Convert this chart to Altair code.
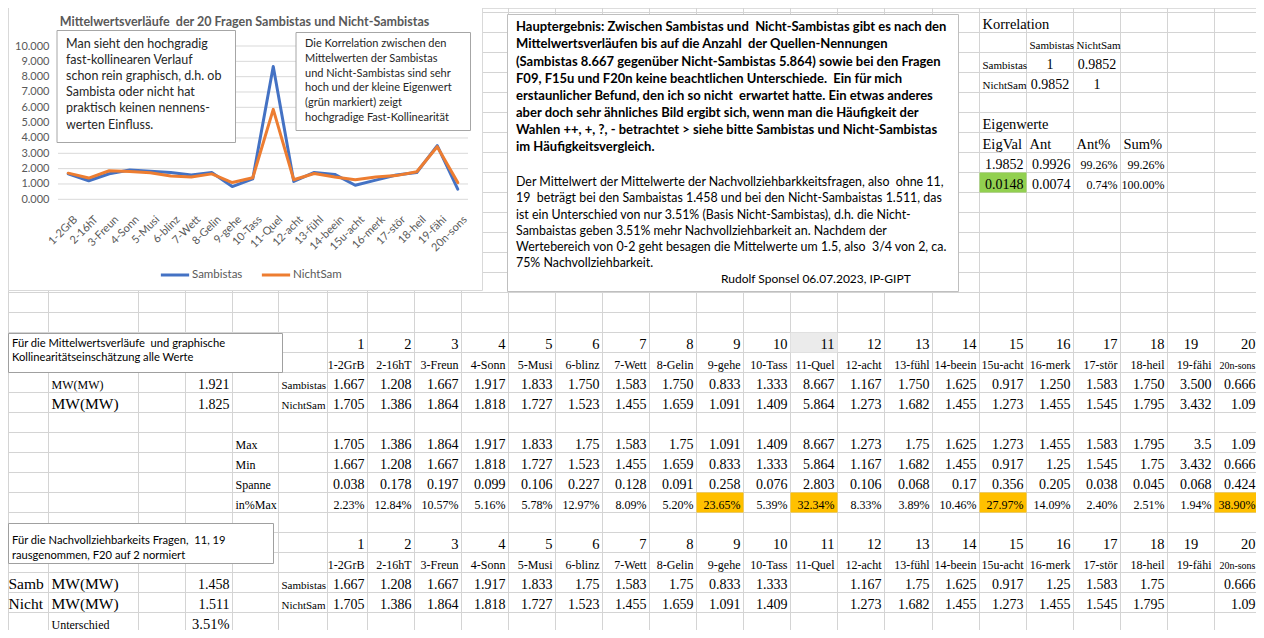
import altair as alt
import pandas as pd

# ---------------- data ----------------
categories = ["1-2GrB", "2-16hT", "3-Freun", "4-Sonn", "5-Musi", "6-blinz", "7-Wett",
              "8-Gelin", "9-gehe", "10-Tass", "11-Quel", "12-acht", "13-fühl", "14-beein",
              "15u-acht", "16-merk", "17-stör", "18-heil", "19-fähi", "20n-sons"]
question_numbers = list(range(1, 21))
sambistas = [1.667, 1.208, 1.667, 1.917, 1.833, 1.750, 1.583, 1.750, 0.833, 1.333,
             8.667, 1.167, 1.750, 1.625, 0.917, 1.250, 1.583, 1.750, 3.500, 0.666]
nichtsam = [1.705, 1.386, 1.864, 1.818, 1.727, 1.523, 1.455, 1.659, 1.091, 1.409,
            5.864, 1.273, 1.682, 1.455, 1.273, 1.455, 1.545, 1.795, 3.432, 1.09]
max_vals = [1.705, 1.386, 1.864, 1.917, 1.833, 1.75, 1.583, 1.75, 1.091, 1.409,
            8.667, 1.273, 1.75, 1.625, 1.273, 1.455, 1.583, 1.795, 3.5, 1.09]
min_vals = [1.667, 1.208, 1.667, 1.818, 1.727, 1.523, 1.455, 1.659, 0.833, 1.333,
            5.864, 1.167, 1.682, 1.455, 0.917, 1.25, 1.545, 1.75, 3.432, 0.666]
spanne = [0.038, 0.178, 0.197, 0.099, 0.106, 0.227, 0.128, 0.091, 0.258, 0.076,
          2.803, 0.106, 0.068, 0.17, 0.356, 0.205, 0.038, 0.045, 0.068, 0.424]
in_pct_max = [2.23, 12.84, 10.57, 5.16, 5.78, 12.97, 8.09, 5.20, 23.65, 5.39,
              32.34, 8.33, 3.89, 10.46, 27.97, 14.09, 2.40, 2.51, 1.94, 38.90]
highlight_questions = [9, 11, 15, 20]
excluded_questions = [11, 19]
mw_all = [1.921, 1.825]
mw_nv = [1.458, 1.511]
unterschied = "3.51%"
corr_labels = ["Sambistas", "NichtSam"]
corr_matrix = [["1", "0.9852"], ["0.9852", "1"]]
eig_header = ["EigVal", "Ant", "Ant%", "Sum%"]
eig_rows = [["1.9852", "0.9926", "99.26%", "99.26%"],
            ["0.0148", "0.0074", "0.74%", "100.00%"]]

NB2 = " \u00a0"  # keeps the double spaces of the original texts
chart_title = "Mittelwertsverläufe" + NB2 + "der 20 Fragen Sambistas und Nicht-Sambistas"
note_left = ["Man sieht den hochgradig", "fast-kollinearen Verlauf",
             "schon rein graphisch, d.h. ob", "Sambista oder nicht hat",
             "praktisch keinen nennens-", "werten Einfluss."]
note_right = ["Die Korrelation zwischen den", "Mittelwerten der Sambistas",
              "und Nicht-Sambistas sind sehr", "hoch und der kleine Eigenwert",
              "(grün markiert) zeigt", "hochgradige Fast-Kollinearität"]
main_bold = ["Hauptergebnis: Zwischen Sambistas und" + NB2 + "Nicht-Sambistas gibt es nach den",
             "Mittelwertsverläufen bis auf die Anzahl" + NB2 + "der Quellen-Nennungen",
             "(Sambistas 8.667 gegenüber Nicht-Sambistas 5.864) sowie bei den Fragen",
             "F09, F15u und F20n keine beachtlichen Unterschiede." + NB2 + "Ein für mich",
             "erstaunlicher Befund, den ich so nicht" + NB2 + "erwartet hatte. Ein etwas anderes",
             "aber doch sehr ähnliches Bild ergibt sich, wenn man die Häufigkeit der",
             "Wahlen ++, +, ?, - betrachtet > siehe bitte Sambistas und Nicht-Sambistas",
             "im Häufigkeitsvergleich."]
main_norm = ["Der Mittelwert der Mittelwerte der Nachvollziehbarkkeitsfragen, also" + NB2 + "ohne 11,",
             "19" + NB2 + "beträgt bei den Sambaistas 1.458 und bei den Nicht-Sambaistas 1.511, das",
             "ist ein Unterschied von nur 3.51% (Basis Nicht-Sambistas), d.h. die Nicht-",
             "Sambaistas geben 3.51% mehr Nachvollziehbarkeit an. Nachdem der",
             "Wertebereich von 0-2 geht besagen die Mittelwerte um 1.5, also" + NB2 + "3/4 von 2, ca.",
             "75% Nachvollziehbarkeit."]
signature = "Rudolf Sponsel 06.07.2023, IP-GIPT"
box1_text = ["Für die Mittelwertsverläufe" + NB2 + "und graphische", "Kollinearitätseinschätzung alle Werte"]
box2_text = ["Für die Nachvollziehbarkeits Fragen," + NB2 + "11, 19", "rausgenommen, F20 auf 2 normiert"]

# ---------------- layout ----------------
W, H = 1248, 622
OFF = 8
SERIF = "Liberation Serif"
SANS = "Lato"
col_edges_page = ([8, 48, 138, 185, 232, 278, 327, 367]
                  + [413.8 + 47.07 * i for i in range(18)] + [1258.5, 1300])
SX = alt.Scale(type="linear", domain=list(range(len(col_edges_page))),
               range=[round(e - OFF) + 0.5 for e in col_edges_page], zero=False, nice=False)
SY = alt.Scale(type="linear", domain=[0, 32], range=[-15.5, 624.5], zero=False, nice=False)


def gen(v):
    return f"{v:.3f}".rstrip("0").rstrip(".")


def fix3(v):
    return f"{v:.3f}"


def qcol(k):
    return 5 + k


# ---------------- sheet cells ----------------
cells = []


def put(col, row, text, style):
    cells.append(dict(col=col, row=row, text=str(text), style=style))


STY = {
    "num": (14, "right", -3), "hdr": (14.5, "right", -3), "hdrc": (14.5, "center", 0),
    "lab": (12, "right", -3), "labs": (10, "right", -3), "rowlab": (11, "left", 3),
    "stat": (12, "left", 3), "pct": (12, "right", -3), "big": (15.5, "left", 3),
    "bigA": (15.5, "left", 0),
    "mws": (12, "left", 3), "ktitle": (14.5, "left", 3), "kc": (14, "center", 0),
    "kpct": (12, "right", -3), "knum": (14, "right", -3), "unt": (12, "left", 3),
    "untv": (14.5, "right", -3),
}

# upper table
for k in question_numbers:
    put(qcol(k), 17, k, "hdrc" if k == 19 else "hdr")
    put(qcol(k), 18, categories[k - 1], "labs" if k == 20 else "lab")
    put(qcol(k), 19, fix3(sambistas[k - 1]), "num")
    put(qcol(k), 20, fix3(nichtsam[k - 1]) if k < 20 else gen(nichtsam[k - 1]), "num")
    put(qcol(k), 22, gen(max_vals[k - 1]), "num")
    put(qcol(k), 23, gen(min_vals[k - 1]), "num")
    put(qcol(k), 24, gen(spanne[k - 1]), "num")
    put(qcol(k), 25, f"{in_pct_max[k - 1]:.2f}%", "pct")
put(1, 19, "MW(MW)", "mws")
put(1, 20, "MW(MW)", "big")
put(3, 19, fix3(mw_all[0]), "num")
put(3, 20, fix3(mw_all[1]), "num")
put(5, 19, "Sambistas", "rowlab")
put(5, 20, "NichtSam", "rowlab")
for r, lab in zip([22, 23, 24, 25], ["Max", "Min", "Spanne", "in%Max"]):
    put(4, r, lab, "stat")

# lower table
for k in question_numbers:
    put(qcol(k), 27, k, "hdrc" if k == 19 else "hdr")
    put(qcol(k), 28, categories[k - 1], "labs" if k == 20 else "lab")
    if k not in excluded_questions:
        put(qcol(k), 29, gen(sambistas[k - 1]), "num")
        put(qcol(k), 30, gen(nichtsam[k - 1]), "num")
put(0, 29, "Samb", "bigA")
put(0, 30, "Nicht", "bigA")
put(1, 29, "MW(MW)", "big")
put(1, 30, "MW(MW)", "big")
put(3, 29, fix3(mw_nv[0]), "num")
put(3, 30, fix3(mw_nv[1]), "num")
put(5, 29, "Sambistas", "rowlab")
put(5, 30, "NichtSam", "rowlab")
put(1, 31, "Unterschied", "unt")
put(3, 31, unterschied, "untv")

# Korrelation / Eigenwerte block
kc0 = qcol(15)
put(kc0, 1, "Korrelation", "ktitle")
put(kc0 + 1, 2, corr_labels[0], "rowlab")
put(kc0 + 2, 2, corr_labels[1], "rowlab")
for i, lab in enumerate(corr_labels):
    put(kc0, 3 + i, lab, "rowlab")
    for j in range(2):
        put(kc0 + 1 + j, 3 + i, corr_matrix[i][j], "kc")
put(kc0, 6, "Eigenwerte", "ktitle")
for j, h in enumerate(eig_header):
    put(kc0 + j, 7, h, "ktitle")
for i, row in enumerate(eig_rows):
    for j, v in enumerate(row):
        put(kc0 + j, 8 + i, v, "knum" if j < 2 else "kpct")

cells_df = pd.DataFrame(cells)
cells_df["yp"] = cells_df["row"] + 1

text_layers = []
for name, (size, align, dx) in STY.items():
    d = cells_df[cells_df["style"] == name].copy()
    if d.empty:
        continue
    shift = {"right": 1.0, "left": 0.0, "center": 0.5}[align]
    d["xp"] = d["col"] + shift
    text_layers.append(
        alt.Chart(d).mark_text(align=align, baseline="alphabetic", dx=dx, dy=-4,
                               font=SERIF, fontSize=size, color="black")
        .encode(x=alt.X("xp:Q", scale=SX, axis=None),
                y=alt.Y("yp:Q", scale=SY, axis=None),
                text="text:N"))

# gridlines
vgrid = pd.DataFrame({"e": list(range(len(col_edges_page))), "y0": 0, "y1": 32})
hgrid = pd.DataFrame({"r": list(range(33)), "x0": 0, "x1": len(col_edges_page) - 1})
grid_v = alt.Chart(vgrid).mark_rule(color="#d4d4d4", strokeWidth=1).encode(
    x=alt.X("e:Q", scale=SX, axis=None), y=alt.Y("y0:Q", scale=SY, axis=None), y2="y1:Q")
grid_h = alt.Chart(hgrid).mark_rule(color="#d4d4d4", strokeWidth=1).encode(
    y=alt.Y("r:Q", scale=SY, axis=None), x=alt.X("x0:Q", scale=SX, axis=None), x2="x1:Q")

# filled cells
fills = [dict(c=qcol(k), r=25, color="#FFC000") for k in highlight_questions]
fills.append(dict(c=kc0, r=9, color="#92D050"))
fills.append(dict(c=qcol(11), r=17, color="#EBEBEB"))
fill_df = pd.DataFrame(fills)
fill_df["c2"] = fill_df["c"] + 1
fill_df["r2"] = fill_df["r"] + 1
fill_layer = alt.Chart(fill_df).mark_rect().encode(
    x=alt.X("c:Q", scale=SX, axis=None), x2="c2:Q",
    y=alt.Y("r:Q", scale=SY, axis=None), y2="r2:Q",
    color=alt.Color("color:N", scale=None))

sheet = alt.layer(grid_v, grid_h, fill_layer, *text_layers)

# ---------------- boxes & free text ----------------
one = pd.DataFrame({"a": [0]})


def box(x0, y0, x1, y1, stroke):
    return alt.Chart(one).mark_rect(fill="white", stroke=stroke, strokeWidth=1).encode(
        x=alt.value(x0 - OFF), x2=alt.value(x1 - OFF), y=alt.value(y0 - OFF), y2=alt.value(y1 - OFF))


def txt(lines, x, yfirst, size, lh, weight="normal", color="black", align="left", font=SANS):
    return alt.Chart(one).mark_text(text=lines, align=align, baseline="middle", font=font,
                                    fontSize=size, fontWeight=weight, lineHeight=lh,
                                    color=color).encode(
        x=alt.value(x - OFF), y=alt.value(yfirst - OFF))


boxes = alt.layer(
    box(8.5, 4.5, 482.5, 290.5, "#D9D9D9"),
    box(507.5, 14.5, 958.5, 291.5, "#BFBFBF"),
    txt(main_bold, 516, 27.3, 13.0, 17.15, weight="bold"),
    txt(main_norm, 516, 182.3, 12.4, 16.2),
    txt(signature, 721, 278.7, 12, 16),
    box(8.5, 333.5, 282.5, 372.5, "#A0A0A0"),
    txt(box1_text, 12, 344, 11.2, 14),
    box(8.5, 523.5, 273.5, 563.5, "#A0A0A0"),
    txt(box2_text, 12, 541, 11.2, 15),
    txt(chart_title, 244.5, 22, 12.5, 15, weight="bold", color="#595959", align="center"),
)

# ---------------- the line chart ----------------
chart_df = pd.DataFrame({
    "cat": categories * 2,
    "val": sambistas + nichtsam,
    "series": ["Sambistas"] * 20 + ["NichtSam"] * 20,
})
Y0, Y10 = 199.3 - OFF, 46 - OFF
XS = alt.Scale(type="point", domain=categories, range=[58 - OFF, 468 - OFF], padding=0.5)
YS = alt.Scale(type="linear", domain=[0, 10], range=[Y0, Y10], nice=False, zero=False)
xaxis = alt.Axis(orient="bottom", offset=-(H - Y0), labelAngle=-45, labelFont=SANS,
                 labelFontSize=11, labelColor="#595959", domain=False, ticks=False,
                 labelPadding=14, labelOffset=3, title=None, grid=False, zindex=1)
yaxis = alt.Axis(orient="left", offset=-(58 - OFF), values=list(range(11)), format=".3f",
                 labelFont=SANS, labelFontSize=11, labelColor="#595959", domain=False,
                 ticks=False, grid=False, labelPadding=9, title=None, zindex=1)

gridvals = pd.DataFrame({"v": list(range(11))})
chart_grid = alt.Chart(gridvals).mark_rule(color="#D9D9D9", strokeWidth=1).encode(
    y=alt.Y("v:Q", scale=YS, axis=yaxis),
    x=alt.value(58 - OFF), x2=alt.value(468 - OFF))
lines = alt.Chart(chart_df).mark_line(strokeWidth=3, strokeJoin="round", strokeCap="round").encode(
    x=alt.X("cat:N", scale=XS, sort=categories, axis=xaxis),
    y=alt.Y("val:Q", scale=YS, axis=yaxis),
    color=alt.Color("series:N",
                    scale=alt.Scale(domain=["Sambistas", "NichtSam"], range=["#4472C4", "#ED7D31"]),
                    legend=alt.Legend(orient="none", legendX=159 - OFF, legendY=259 - OFF,
                                      direction="horizontal", title=None, symbolType="stroke",
                                      symbolStrokeWidth=3, symbolSize=800, labelFont=SANS,
                                      labelFontSize=11.5, labelColor="#595959", columnPadding=12,
                                      padding=0, labelOffset=1)),
    detail="series:N")
chartL = alt.layer(chart_grid, lines)

notes = alt.layer(
    box(57, 30.5, 235.5, 142.5, "#A6A6A6"),
    txt(note_left, 66, 44, 12.5, 16.1, color="#262626"),
    box(296, 32.5, 470.5, 130.5, "#A6A6A6"),
    txt(note_right, 305, 44, 11, 14.8, color="#262626"),
)

chart = alt.layer(sheet, boxes, chartL, notes).resolve_scale(
    x="independent", y="independent"
).properties(
    width=W, height=H, autosize=alt.AutoSizeParams(type="none"), padding=0
).configure_view(stroke=None).configure(background="white")

chart.save("out.html", embed_options={"renderer": "svg", "actions": False})
